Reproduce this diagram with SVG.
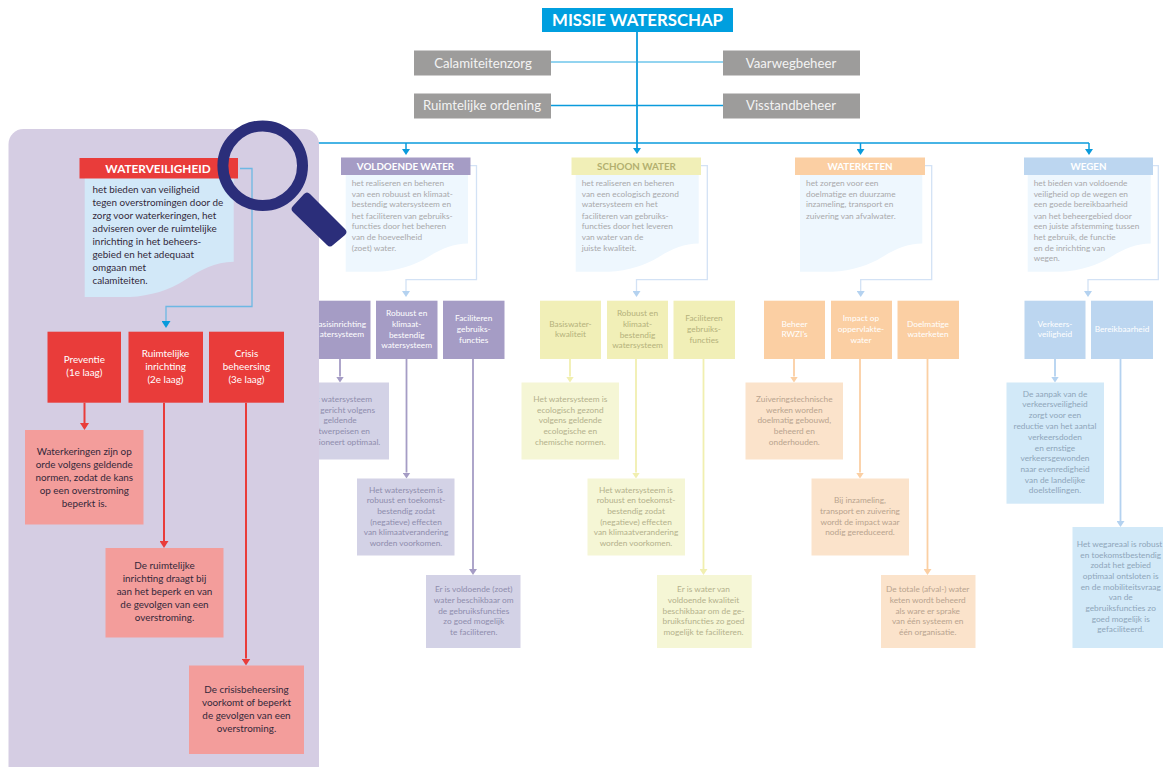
<svg xmlns="http://www.w3.org/2000/svg" width="1163" height="767" viewBox="0 0 1163 767">
<style>
text{font-family:Lato,"Noto Sans","Liberation Sans",sans-serif}
.c{text-anchor:middle}.e{text-anchor:end}
.s{font-size:8.300px}.l{font-size:9.900px}.g{font-size:13.200px;fill:#f3f3f3}
.h{font-size:9.800px;font-weight:700;text-anchor:middle}
.w{fill:#fff}.dg{fill:#a9a9ab}
.tv{fill:#8f8dad}.ty{fill:#b4b18c}.to{fill:#b9a48f}.tb{fill:#8fa6ba}
.ty2{fill:#b5b27c}.ty3{fill:#b3af6f}
.dk{fill:#33283a}
.doc{fill:#eef7fe}
.bv{fill:#a59cc5}.by{fill:#f1efb7}.bo{fill:#fbcfa3}.bb{fill:#bcd6f0}
.rv{fill:#d3d2e6}.ry{fill:#f5f6d5}.ro{fill:#fbe3cb}.rb{fill:#d2e9f8}
.red{fill:#e93c3a}.pink{fill:#f39d9b}.gr{fill:#9d9c9b}
</style>
<defs>
<marker id="aM" markerUnits="userSpaceOnUse" viewBox="0 0 6 8" refX="0" refY="4" markerWidth="6" markerHeight="8" orient="auto"><path d="M0,0L6,4L0,8Z" fill="#0a9bdc"/></marker>
<marker id="aP" markerUnits="userSpaceOnUse" viewBox="0 0 6 8" refX="0" refY="4" markerWidth="6" markerHeight="8" orient="auto"><path d="M0,0L6,4L0,8Z" fill="#a59cc5"/></marker>
<marker id="aY" markerUnits="userSpaceOnUse" viewBox="0 0 6 8" refX="0" refY="4" markerWidth="6" markerHeight="8" orient="auto"><path d="M0,0L6,4L0,8Z" fill="#f1efb0"/></marker>
<marker id="aO" markerUnits="userSpaceOnUse" viewBox="0 0 6 8" refX="0" refY="4" markerWidth="6" markerHeight="8" orient="auto"><path d="M0,0L6,4L0,8Z" fill="#fbcfa3"/></marker>
<marker id="aB" markerUnits="userSpaceOnUse" viewBox="0 0 6 8" refX="0" refY="4" markerWidth="6" markerHeight="8" orient="auto"><path d="M0,0L6,4L0,8Z" fill="#b4d2f0"/></marker>
<marker id="aR" markerUnits="userSpaceOnUse" viewBox="0 0 7 9" refX="0" refY="4.500" markerWidth="7" markerHeight="9" orient="auto"><path d="M0,0L7,4.500L0,9Z" fill="#e93c3a"/></marker>
<marker id="aL" markerUnits="userSpaceOnUse" viewBox="0 0 7 9" refX="0" refY="4.500" markerWidth="7" markerHeight="9" orient="auto"><path d="M0,0L7,4.500L0,9Z" fill="#0a9bdc"/></marker>
</defs>

<g id="connectors-top" fill="none" stroke="#0a9bdc">
<path d="M637,32V148" stroke-width="1.800" marker-end="url(#aM)"/>
<path d="M551,62H723" stroke="#27a9e1" stroke-width="1"/>
<path d="M551,105.500H723" stroke-width="1.300"/>
<path d="M300,143H1089" stroke-width="1.300"/>
<path d="M406,143V149" stroke-width="1.500" marker-end="url(#aM)"/>
<path d="M860.500,143V149" stroke-width="1.500" marker-end="url(#aM)"/>
<path d="M1089,143V149" stroke-width="1.500" marker-end="url(#aM)"/>
</g>

<g id="connectors-columns" fill="none">
<g stroke="#d3e2f5" stroke-width="1.300">
<path d="M470,165.700H476.500V279.700H406V291" marker-end="url(#aB)"/>
<path d="M701,165.700H707.300V279.700H636.500V291" marker-end="url(#aB)"/>
<path d="M925,165.700H931.700V279.700H860.700V291" marker-end="url(#aB)"/>
<path d="M1153,165.700H1158.300V279.700H1088V291" marker-end="url(#aB)"/>
</g>
<g stroke="#a59cc5" stroke-width="1.800">
<path d="M340,359V376.500" marker-end="url(#aP)"/>
<path d="M406.500,359V472.500" marker-end="url(#aP)"/>
<path d="M473,359V569" marker-end="url(#aP)"/>
</g>
<g stroke="#f1efb0" stroke-width="1.800">
<path d="M570,359V376.500" marker-end="url(#aY)"/>
<path d="M636,359V472.500" marker-end="url(#aY)"/>
<path d="M703.500,359V569" marker-end="url(#aY)"/>
</g>
<g stroke="#fbcfa3" stroke-width="1.800">
<path d="M794,359V376.500" marker-end="url(#aO)"/>
<path d="M860,359V472.500" marker-end="url(#aO)"/>
<path d="M927.500,359V569" marker-end="url(#aO)"/>
</g>
<g stroke="#b4d2f0" stroke-width="1.800">
<path d="M1055,359V376.500" marker-end="url(#aB)"/>
<path d="M1120.500,359V521" marker-end="url(#aB)"/>
</g>
</g>

<g id="missie"><rect x="542" y="8" width="191" height="24" fill="#009fdf"/><text x="637.500" y="25.500" class="c w" font-size="16.800" font-weight="700">MISSIE WATERSCHAP</text></g>
<g id="calamiteitenzorg"><rect class="gr" x="414" y="50.500" width="137" height="25"/><text class="g c" x="483" y="67.500">Calamiteitenzorg</text></g>
<g id="ruimtelijke-ordening"><rect class="gr" x="414" y="93.500" width="137" height="25"/><text class="g c" x="482" y="110">Ruimtelijke ordening</text></g>
<g id="vaarwegbeheer"><rect class="gr" x="723" y="50.500" width="137" height="25"/><text class="g c" x="791" y="67.500">Vaarwegbeheer</text></g>
<g id="visstandbeheer"><rect class="gr" x="723" y="93.500" width="137" height="25"/><text class="g c" x="791" y="110">Visstandbeheer</text></g>

<g id="voldoende-water">
<path class="doc" d="M345.700,175H468V243.500C453,243.500 441,249 428,257C415,265 398,271 378,271.700H345.700Z"/>
<rect class="bv" x="341" y="157.500" width="129.500" height="17.500"/>
<text class="h w" x="405.500" y="170">VOLDOENDE WATER</text>
<text class="s dg"><tspan x="351.700" y="186">het realiseren en beheren</tspan><tspan x="351.700" y="196.700">van een robuust en klimaat-</tspan><tspan x="351.700" y="207.300">bestendig watersysteem en</tspan><tspan x="351.700" y="218.700">het faciliteren van gebruiks-</tspan><tspan x="351.700" y="229.300">functies door het beheren</tspan><tspan x="351.700" y="240">van de hoeveelheid</tspan><tspan x="351.700" y="250.700">(zoet) water.</tspan></text>
</g>
<g id="v-basis"><rect class="bv" x="309.500" y="300.700" width="61" height="58.300"/><text class="s w e"><tspan x="366" y="326.700">asisinrichting</tspan><tspan x="364" y="337">atersysteem</tspan></text></g>
<g id="v-robuust"><rect class="bv" x="376" y="300.700" width="61.500" height="58.300"/><text class="s w c"><tspan x="406.700" y="315.700">Robuust en</tspan><tspan x="406.700" y="326.500">klimaat-</tspan><tspan x="406.700" y="337.500">bestendig</tspan><tspan x="406.700" y="348">watersysteem</tspan></text></g>
<g id="v-faciliteren"><rect class="bv" x="443" y="300.700" width="61.500" height="58.300"/><text class="s w c"><tspan x="473.700" y="321">Faciliteren</tspan><tspan x="473.700" y="332">gebruiks-</tspan><tspan x="473.700" y="342.500">functies</tspan></text></g>
<g id="v-r1"><rect class="rv" x="291.500" y="382.500" width="97.500" height="77"/><text class="s tv e"><tspan x="372" y="402">t watersysteem</tspan><tspan x="375" y="412.700">gericht volgens</tspan><tspan x="356.700" y="423.400">geldende</tspan><tspan x="370" y="434.100">twerpeisen en</tspan><tspan x="380.300" y="444.800">ioneert optimaal.</tspan></text></g>
<g id="v-r2"><rect class="rv" x="357" y="478.500" width="97.500" height="77"/><text class="s tv c"><tspan x="406" y="492.700">Het watersysteem is</tspan><tspan x="406" y="503.400">robuust en toekomst-</tspan><tspan x="406" y="514">bestendig zodat</tspan><tspan x="406" y="524.700">(negatieve) effecten</tspan><tspan x="406" y="535.400">van klimaatverandering</tspan><tspan x="406" y="546">worden voorkomen.</tspan></text></g>
<g id="v-r3"><rect class="rv" x="426" y="575" width="94.500" height="73"/><text class="s tv c"><tspan x="473.700" y="592.300">Er is voldoende (zoet)</tspan><tspan x="473.700" y="603">water beschikbaar om</tspan><tspan x="473.700" y="613.700">de gebruiksfuncties</tspan><tspan x="473.700" y="624.300">zo goed mogelijk</tspan><tspan x="473.700" y="635">te faciliteren.</tspan></text></g>

<g id="schoon-water">
<path class="doc" d="M575.700,175H698.700V243.500C683.700,243.500 671.700,249 658.700,257C645.700,265 628.700,271 608.700,271.700H575.700Z"/>
<rect class="by" x="571.500" y="157.500" width="129.500" height="17.500"/>
<text class="h ty3" x="636.500" y="170">SCHOON WATER</text>
<text class="s dg"><tspan x="581.700" y="186">het realiseren en beheren</tspan><tspan x="581.700" y="196.700">van een ecologisch gezond</tspan><tspan x="581.700" y="207.300">watersysteem en het</tspan><tspan x="581.700" y="218.700">faciliteren van gebruiks-</tspan><tspan x="581.700" y="229.300">functies door het leveren</tspan><tspan x="581.700" y="240">van water van de</tspan><tspan x="581.700" y="250.700">juiste kwaliteit.</tspan></text>
</g>
<g id="s-basis"><rect class="by" x="540" y="300.700" width="61" height="58.300"/><text class="s ty2 c"><tspan x="570.500" y="326.700">Basiswater-</tspan><tspan x="570.500" y="337">kwaliteit</tspan></text></g>
<g id="s-robuust"><rect class="by" x="607" y="300.700" width="61" height="58.300"/><text class="s ty2 c"><tspan x="637.500" y="315.700">Robuust en</tspan><tspan x="637.500" y="326.500">klimaat-</tspan><tspan x="637.500" y="337.500">bestendig</tspan><tspan x="637.500" y="348">watersysteem</tspan></text></g>
<g id="s-faciliteren"><rect class="by" x="673.500" y="300.700" width="61.500" height="58.300"/><text class="s ty2 c"><tspan x="704" y="321">Faciliteren</tspan><tspan x="704" y="332">gebruiks-</tspan><tspan x="704" y="342.500">functies</tspan></text></g>
<g id="s-r1"><rect class="ry" x="521.500" y="382.500" width="97.500" height="77"/><text class="s ty c"><tspan x="570.300" y="402">Het watersysteem is</tspan><tspan x="570.300" y="412.700">ecologisch gezond</tspan><tspan x="570.300" y="423.400">volgens geldende</tspan><tspan x="570.300" y="434.100">ecologische en</tspan><tspan x="570.300" y="444.800">chemische normen.</tspan></text></g>
<g id="s-r2"><rect class="ry" x="587.500" y="478.500" width="97.500" height="77"/><text class="s ty c"><tspan x="636" y="492.700">Het watersysteem is</tspan><tspan x="636" y="503.400">robuust en toekomst-</tspan><tspan x="636" y="514">bestendig zodat</tspan><tspan x="636" y="524.700">(negatieve) effecten</tspan><tspan x="636" y="535.400">van klimaatverandering</tspan><tspan x="636" y="546">worden voorkomen.</tspan></text></g>
<g id="s-r3"><rect class="ry" x="657" y="575" width="94.700" height="73"/><text class="s ty c"><tspan x="703.500" y="592.300">Er is water van</tspan><tspan x="703.500" y="603">voldoende kwaliteit</tspan><tspan x="703.500" y="613.700">beschikbaar om de ge-</tspan><tspan x="703.500" y="624.300">bruiksfuncties zo goed</tspan><tspan x="703.500" y="635">mogelijk te faciliteren.</tspan></text></g>

<g id="waterketen">
<path class="doc" d="M800,175H922.300V243.500C907.300,243.500 895.300,249 882.300,257C869.300,265 852.300,271 832.300,271.700H800Z"/>
<rect class="bo" x="795" y="157.500" width="130" height="17.500"/>
<text class="h w" x="860" y="170">WATERKETEN</text>
<text class="s dg"><tspan x="806" y="186">het zorgen voor een</tspan><tspan x="806" y="196.700">doelmatige en duurzame</tspan><tspan x="806" y="207.300">inzameling, transport en</tspan><tspan x="806" y="218.700">zuivering van afvalwater.</tspan></text>
</g>
<g id="k-beheer"><rect class="bo" x="764" y="300.700" width="61" height="58.300"/><text class="s w c"><tspan x="794.500" y="326.700">Beheer</tspan><tspan x="794.500" y="337">RWZI's</tspan></text></g>
<g id="k-impact"><rect class="bo" x="831" y="300.700" width="61" height="58.300"/><text class="s w c"><tspan x="861" y="321">Impact op</tspan><tspan x="861" y="332">oppervlakte-</tspan><tspan x="861" y="342.500">water</tspan></text></g>
<g id="k-doelmatig"><rect class="bo" x="897.500" y="300.700" width="61.500" height="58.300"/><text class="s w c"><tspan x="928" y="326.700">Doelmatige</tspan><tspan x="928" y="337">waterketen</tspan></text></g>
<g id="k-r1"><rect class="ro" x="745.500" y="382.500" width="97.500" height="77"/><text class="s to c"><tspan x="794.300" y="402">Zuiveringstechnische</tspan><tspan x="794.300" y="412.700">werken worden</tspan><tspan x="794.300" y="423.400">doelmatig gebouwd,</tspan><tspan x="794.300" y="434.100">beheerd en</tspan><tspan x="794.300" y="444.800">onderhouden.</tspan></text></g>
<g id="k-r2"><rect class="ro" x="811.500" y="478.500" width="97.500" height="77"/><text class="s to c"><tspan x="860" y="503.300">Bij inzameling,</tspan><tspan x="860" y="514">transport en zuivering</tspan><tspan x="860" y="524.700">wordt de impact waar</tspan><tspan x="860" y="535.400">nodig gereduceerd.</tspan></text></g>
<g id="k-r3"><rect class="ro" x="881" y="575" width="94.500" height="73"/><text class="s to c"><tspan x="927.700" y="592.300">De totale (afval-) water</tspan><tspan x="927.700" y="603">keten wordt beheerd</tspan><tspan x="927.700" y="613.700">als ware er sprake</tspan><tspan x="927.700" y="624.300">van één systeem en</tspan><tspan x="927.700" y="635">één organisatie.</tspan></text></g>

<g id="wegen">
<path class="doc" d="M1027.700,175H1150.700V243.500C1135.700,243.500 1123.700,249 1110.700,257C1097.700,265 1080.700,271 1060.700,271.700H1027.700Z"/>
<rect class="bb" x="1024" y="157.500" width="129" height="17.500"/>
<text class="h w" x="1088.500" y="170">WEGEN</text>
<text class="s dg"><tspan x="1033.700" y="186">het bieden van voldoende</tspan><tspan x="1033.700" y="196.700">veiligheid op de wegen en</tspan><tspan x="1033.700" y="207.300">een goede bereikbaarheid</tspan><tspan x="1033.700" y="218.700">van het beheergebied door</tspan><tspan x="1033.700" y="229.300">een juiste afstemming tussen</tspan><tspan x="1033.700" y="240">het gebruik, de functie</tspan><tspan x="1033.700" y="250.700">en de inrichting van</tspan><tspan x="1033.700" y="261.300">wegen.</tspan></text>
</g>
<g id="w-verkeer"><rect class="bb" x="1024.500" y="300.700" width="61" height="58.300"/><text class="s w c"><tspan x="1055" y="326.700">Verkeers-</tspan><tspan x="1055" y="337">veiligheid</tspan></text></g>
<g id="w-bereik"><rect class="bb" x="1091" y="300.700" width="62" height="58.300"/><text class="s w c" x="1122" y="331.500">Bereikbaarheid</text></g>
<g id="w-r1"><rect class="rb" x="1006.500" y="382.500" width="97.500" height="121.200"/><text class="s tb c"><tspan x="1055" y="396.700">De aanpak van de</tspan><tspan x="1055" y="407.400">verkeersveiligheid</tspan><tspan x="1055" y="418">zorgt voor een</tspan><tspan x="1055" y="428.700">reductie van het aantal</tspan><tspan x="1055" y="439.700">verkeersdoden</tspan><tspan x="1055" y="450.500">en ernstige</tspan><tspan x="1055" y="461.200">verkeersgewonden</tspan><tspan x="1055" y="471.900">naar evenredigheid</tspan><tspan x="1055" y="482.600">van de landelijke</tspan><tspan x="1055" y="493.300">doelstellingen.</tspan></text></g>
<g id="w-r2"><rect class="rb" x="1072.500" y="527" width="91" height="121"/><text class="s tb c"><tspan x="1119.500" y="547">Het wegareaal is robust</tspan><tspan x="1120.700" y="557.700">en toekomstbestendig</tspan><tspan x="1120.700" y="568.400">zodat het gebied</tspan><tspan x="1120.700" y="579">optimaal ontsloten is</tspan><tspan x="1120.700" y="589.700">en de mobiliteitsvraag</tspan><tspan x="1120.700" y="600.400">van de</tspan><tspan x="1120.700" y="611">gebruiksfuncties zo</tspan><tspan x="1120.700" y="621.700">goed mogelijk is</tspan><tspan x="1120.700" y="632.400">gefaciliteerd.</tspan></text></g>

<rect id="panel" x="8.500" y="129" width="310.500" height="660" rx="15" fill="#d5cde3"/>

<g id="connectors-veiligheid" fill="none">
<path d="M240,168.500H252V306.500H166V321" stroke="#6db8e4" stroke-width="1.300" marker-end="url(#aL)"/>
<g stroke="#e93c3a" stroke-width="2">
<path d="M84.500,402.700V423" marker-end="url(#aR)"/>
<path d="M164,402.700V541" marker-end="url(#aR)"/>
<path d="M246,402.700V658.500" marker-end="url(#aR)"/>
</g>
</g>

<g id="waterveiligheid">
<path fill="#d2e8f8" d="M84.700,178H233.700V261.700C215,262 200,270 185,280C170,290 150,296 130,297H84.700Z"/>
<rect class="red" x="79.500" y="158" width="158.500" height="20.500"/>
<text class="w c" x="158" y="173" font-size="11.800" font-weight="700">WATERVEILIGHEID</text>
<text class="l dk"><tspan x="92.500" y="192.500">het bieden van veiligheid</tspan><tspan x="92.500" y="205.500">tegen overstromingen door de</tspan><tspan x="92.500" y="218.500">zorg voor waterkeringen, het</tspan><tspan x="92.500" y="231.500">adviseren over de ruimtelijke</tspan><tspan x="92.500" y="244.500">inrichting in het beheers-</tspan><tspan x="92.500" y="257.500">gebied en het adequaat</tspan><tspan x="92.500" y="270.500">omgaan met</tspan><tspan x="92.500" y="283.500">calamiteiten.</tspan></text>
</g>
<g id="preventie"><rect class="red" x="47.500" y="331.700" width="73.500" height="71"/><text class="l w c"><tspan x="84.300" y="363">Preventie</tspan><tspan x="84.300" y="376">(1e laag)</tspan></text></g>
<g id="ruimtelijke-inrichting"><rect class="red" x="128.500" y="331.700" width="74.500" height="71"/><text class="l w c"><tspan x="165.500" y="356.500">Ruimtelijke</tspan><tspan x="165.500" y="369.500">inrichting</tspan><tspan x="165.500" y="382.500">(2e laag)</tspan></text></g>
<g id="crisisbeheersing"><rect class="red" x="209" y="331.700" width="75" height="71"/><text class="l w c"><tspan x="246.500" y="356.500">Crisis</tspan><tspan x="246.500" y="369.500">beheersing</tspan><tspan x="246.500" y="382.500">(3e laag)</tspan></text></g>
<g id="p-r1"><rect class="pink" x="25" y="430" width="118.500" height="94.500"/><text class="l dk c"><tspan x="84.300" y="454.500">Waterkeringen zijn op</tspan><tspan x="84.300" y="467.500">orde volgens geldende</tspan><tspan x="84.300" y="480.500">normen, zodat de kans</tspan><tspan x="84.300" y="493.500">op een overstroming</tspan><tspan x="84.300" y="506.500">beperkt is.</tspan></text></g>
<g id="p-r2"><rect class="pink" x="105.500" y="548" width="118" height="89.500"/><text class="l dk c"><tspan x="164.500" y="569">De ruimtelijke</tspan><tspan x="164.500" y="582">inrichting draagt bij</tspan><tspan x="164.500" y="595">aan het beperk en van</tspan><tspan x="164.500" y="608">de gevolgen van een</tspan><tspan x="164.500" y="621">overstroming.</tspan></text></g>
<g id="p-r3"><rect class="pink" x="189" y="665.500" width="115" height="88.500"/><text class="l dk c"><tspan x="246.500" y="692.500">De crisisbeheersing</tspan><tspan x="246.500" y="705.500">voorkomt of beperkt</tspan><tspan x="246.500" y="718.500">de gevolgen van een</tspan><tspan x="246.500" y="731.500">overstroming.</tspan></text></g>

<g id="vergrootglas">
<circle cx="262.700" cy="165.700" r="39.800" fill="none" stroke="#2b2e7a" stroke-width="11"/>
<path d="M310,194L345,229Q348,232 345,235L333,245Q330,248 327,245L293,212Q290,209 293,206L304,194Q307,191 310,194Z" fill="#2b2e7a"/>
</g>
</svg>
